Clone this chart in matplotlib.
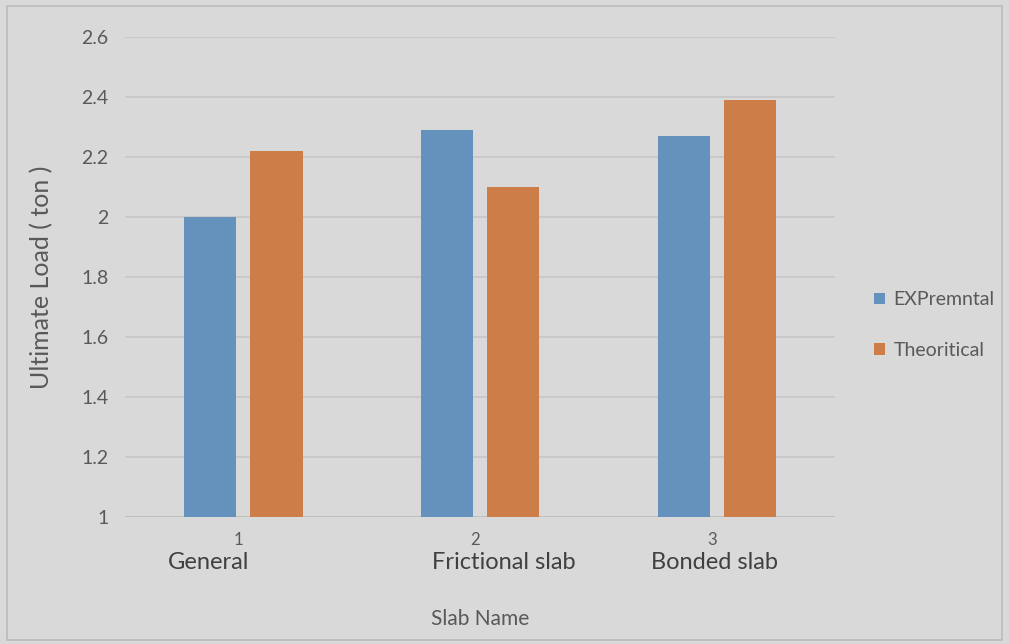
import numpy as np
import matplotlib.pyplot as plt
from matplotlib.patches import Rectangle

slabs = ["General", "Frictional slab", "Bonded slab"]
slab_no = ["1", "2", "3"]
experimental = [2.0, 2.29, 2.27]
theoretical = [2.22, 2.10, 2.39]
y_ticks = [1, 1.2, 1.4, 1.6, 1.8, 2, 2.2, 2.4, 2.6]
y_tick_labels = ["1", "1.2", "1.4", "1.6", "1.8", "2", "2.2", "2.4", "2.6"]

plt.rcParams['font.family'] = ['Lato', 'DejaVu Sans']
bg = "#d9d9d9"
txt = "#595959"

fig = plt.figure(figsize=(10.09, 6.44), dpi=100, facecolor=bg)
fig.patches.append(Rectangle((0.007, 0.006), 0.986, 0.985, transform=fig.transFigure,
                             fill=False, edgecolor="#bcbcbc", linewidth=1.2))
ax = fig.add_axes([0.1239, 0.1972, 0.7037, 0.7453])
ax.set_facecolor(bg)

x = np.arange(1, 4)
w = 0.22
ax.bar(x - 0.14, [v - 1 for v in experimental], w, bottom=1, color="#6592bd", label="EXPremntal", zorder=3)
ax.bar(x + 0.14, [v - 1 for v in theoretical], w, bottom=1, color="#cd7e48", label="Theoritical", zorder=3)

ax.set_xlim(0.5, 3.5)
ax.set_ylim(1, 2.6)
ax.set_yticks(y_ticks)
ax.set_yticklabels(y_tick_labels)
ax.grid(axis="y", color="#c6c6c6", linewidth=1.2, zorder=0)
for s in ax.spines.values():
    s.set_visible(False)
ax.axhline(1, color="#bdbdbd", linewidth=1.2, zorder=2)
ax.tick_params(axis="y", length=0, pad=12, labelsize=14, labelcolor=txt)
ax.set_xticks(x - 0.02)
ax.set_xticklabels(slab_no)
ax.tick_params(axis="x", length=0, pad=11, labelsize=12, labelcolor=txt)

# category names sit a bit below and to the side of the numeric ticks
name_x = [0.855, 2.1, 2.99]
for nx, name in zip(name_x, slabs):
    ax.text(nx, 0.85, name, ha="center", va="center", fontsize=17, color="#404040")

ax.set_ylabel("Ultimate Load ( ton )", fontsize=18, color=txt, labelpad=20)
ax.set_xlabel("Slab Name", fontsize=15, color=txt, labelpad=44)

ax.legend(loc="center left", bbox_to_anchor=(1.03, 0.4), frameon=False, fontsize=14,
          labelcolor=txt, handlelength=0.55, handleheight=0.55, handletextpad=0.45, labelspacing=1.7)

fig.savefig("out.png", dpi=100, facecolor=bg)
